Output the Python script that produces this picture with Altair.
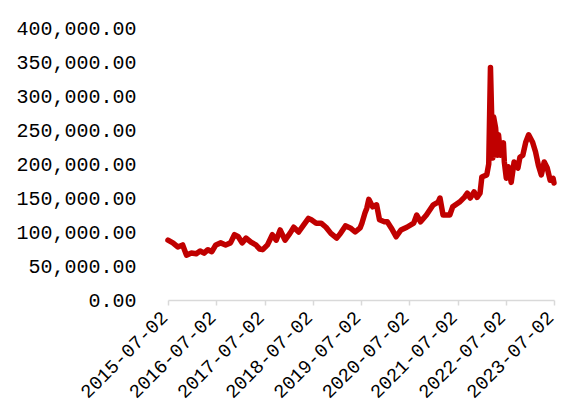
import altair as alt
import pandas as pd

dates = [
    "2015-07-02", "2015-08-08", "2015-09-14", "2015-10-21", "2015-11-19", "2015-12-26",
    "2016-02-01", "2016-03-01", "2016-03-31", "2016-04-29", "2016-05-29", "2016-06-28",
    "2016-08-04", "2016-09-10", "2016-10-17", "2016-11-16", "2016-12-15", "2017-01-13",
    "2017-02-12", "2017-03-21", "2017-04-27", "2017-05-26", "2017-06-18", "2017-07-24",
    "2017-08-30", "2017-09-28", "2017-10-28", "2017-12-04", "2018-01-10", "2018-02-08",
    "2018-03-17", "2018-04-23", "2018-05-30", "2018-06-21", "2018-07-28", "2018-09-03",
    "2018-10-10", "2018-11-16", "2018-12-30", "2019-01-28", "2019-03-06", "2019-04-12",
    "2019-05-19", "2019-06-25", "2019-07-09", "2019-08-01", "2019-08-15", "2019-08-30",
    "2019-09-28", "2019-10-28", "2019-11-19", "2019-12-26", "2020-01-17", "2020-02-16",
    "2020-03-24", "2020-04-29", "2020-06-13", "2020-08-04", "2020-08-27", "2020-09-25",
    "2020-11-08", "2020-12-30", "2021-02-05", "2021-02-19", "2021-03-14", "2021-05-04",
    "2021-05-26", "2021-07-17", "2021-08-22", "2021-09-14", "2021-10-06", "2021-11-04",
    "2021-11-27", "2021-12-19", "2022-01-02", "2022-02-08", "2022-02-23", "2022-03-08",
    "2022-03-25", "2022-04-01", "2022-04-16", "2022-04-30", "2022-05-08", "2022-05-23",
    "2022-06-14", "2022-06-21", "2022-07-06", "2022-07-21", "2022-08-12", "2022-09-03",
    "2022-10-02", "2022-10-17", "2022-11-08", "2022-11-30", "2022-12-22", "2023-01-21",
    "2023-02-12", "2023-03-06", "2023-03-28", "2023-04-19", "2023-05-12", "2023-06-03",
    "2023-06-25", "2023-07-02",
]
values = [
    88000, 84000, 78000, 81000, 66000, 69000,
    68000, 72000, 69000, 74000, 71000, 81000,
    84000, 81000, 84000, 96000, 93000, 84000,
    91000, 85000, 81000, 75000, 74000, 81000,
    96000, 88000, 103000, 88000, 98000, 107000,
    100000, 110000, 120000, 118000, 113000, 113000,
    107000, 98000, 91000, 98000, 109000, 106000,
    100000, 106000, 113000, 128000, 135000, 148000,
    137000, 140000, 118000, 115000, 115000, 106000,
    93000, 103000, 107000, 113000, 125000, 115000,
    125000, 140000, 144000, 150000, 125000, 125000,
    137000, 144000, 151000, 157000, 150000, 159000,
    151000, 157000, 181000, 184000, 200000, 342000,
    209000, 269000, 253000, 213000, 243000, 213000,
    231000, 203000, 179000, 196000, 173000, 203000,
    194000, 210000, 213000, 232000, 243000, 232000,
    218000, 198000, 184000, 203000, 194000, 176000,
    179000, 172000,
]
tick_dates = [
    "2015-07-02", "2016-07-02", "2017-07-02", "2018-07-02", "2019-07-02",
    "2020-07-02", "2021-07-02", "2022-07-02", "2023-07-02",
]
y_ticks = [0, 50000, 100000, 150000, 200000, 250000, 300000, 350000, 400000]

df = pd.DataFrame({"date": pd.to_datetime(dates), "value": values})

font = "Liberation Mono"

chart = alt.Chart(df).mark_line(color="#C00000", strokeWidth=5.5, strokeJoin="round", strokeCap="round").encode(
    x=alt.X(
        "date:T",
        scale=alt.Scale(domain=[tick_dates[0], tick_dates[-1]]),
        axis=alt.Axis(
            values=[pd.Timestamp(d).isoformat() for d in tick_dates],
            format="%Y-%m-%d",
            labelAngle=-45,
            labelAlign="right",
            labelBaseline="middle",
            labelFont=font,
            labelFontSize=19,
            labelColor="#000000",
            labelPadding=9,
            labelOffset=-4,
            tickSize=5,
            tickColor="#D9D9D9",
            tickWidth=1.5,
            domainColor="#D9D9D9",
            domainWidth=1.5,
            grid=False,
            title=None,
            labelOverlap=False,
            labelFlush=False,
        ),
    ),
    y=alt.Y(
        "value:Q",
        scale=alt.Scale(domain=[0, 400000], nice=False),
        axis=alt.Axis(
            values=y_ticks,
            format=",.2f",
            labelFont=font,
            labelFontSize=20,
            labelColor="#000000",
            labelPadding=32,
            domain=False,
            ticks=False,
            grid=False,
            title=None,
            labelOverlap=False,
        ),
    ),
).properties(
    width=386,
    height=272,
    autosize=alt.AutoSizeParams(type="none"),
    padding={"left": 160, "top": 20, "right": 6, "bottom": 104},
).configure_view(stroke=None)

chart.save("out.html", embed_options={"renderer": "svg", "actions": False})
